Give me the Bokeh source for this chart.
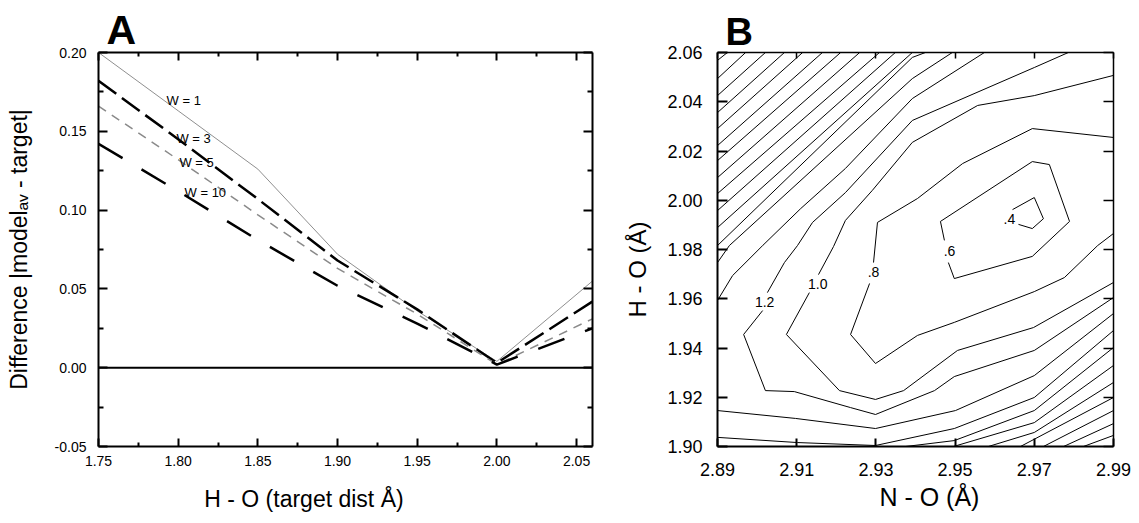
from bokeh.plotting import figure
from bokeh.layouts import row
from bokeh.models import (Range1d, LinearAxis, FixedTicker, PrintfTickFormatter, Span,
                          CustomJSTickFormatter)
from bokeh.core.properties import value
from bokeh.embed import file_html
from bokeh.resources import INLINE

FONT = "Liberation Sans"
NBSP = "\u00a0"

# ---------------- Panel A data ----------------
target_dist = [1.75, 1.80, 1.85, 1.90, 1.95, 2.00, 2.06]
diff_w1 = [0.200, 0.163, 0.126, 0.072, 0.036, 0.004, 0.055]
diff_w3 = [0.182, 0.145, 0.107, 0.068, 0.037, 0.003, 0.042]
diff_w5 = [0.166, 0.132, 0.097, 0.063, 0.034, 0.002, 0.031]
diff_w10 = [0.142, 0.112, 0.081, 0.052, 0.028, 0.002, 0.025]
w_labels = ["W = 1", "W = 3", "W = 5", "W = 10"]
w_label_x = [1.7927, 1.7989, 1.8008, 1.8040]
w_label_y = [0.1696, 0.1457, 0.1300, 0.1112]
a_xticks = [1.75, 1.80, 1.85, 1.90, 1.95, 2.00, 2.05]
a_xminor = [1.775, 1.825, 1.875, 1.925, 1.975, 2.025]
a_yticks = [-0.05, 0.00, 0.05, 0.10, 0.15, 0.20]
a_yminor = [-0.025, 0.025, 0.075, 0.125, 0.175]

# ---------------- Panel B data (contour lines traced) ----------------
contour_xs = [
    [2.9660, 2.9695, 2.9723, 2.9700, 2.9645],                      # 0.4
    [2.9473, 2.9463, 2.9695, 2.9738, 2.9789, 2.9695, 2.9498, 2.9483],  # 0.6
    [2.9900, 2.9695, 2.9519, 2.9405, 2.9304, 2.9294],              # 0.8 upper
    [2.9284, 2.9236, 2.9299, 2.9405, 2.9498, 2.9700, 2.9776, 2.9860, 2.9900],  # 0.8 lower
    [2.9155, 2.9193, 2.9223, 2.9291, 2.9392, 2.9557, 2.9700, 2.9900],  # 1.0 upper
    [2.9132, 2.9074, 2.9208, 2.9299, 2.9370, 2.9506, 2.9698, 2.9900],  # 1.0 lower
    [2.9026, 2.9069, 2.9102, 2.9140, 2.9223, 2.9392, 2.9700, 2.9786],  # 1.2 upper
    [2.9014, 2.8966, 2.9021, 2.9094, 2.9236, 2.9299, 2.9448, 2.9498, 2.9700, 2.9900],  # 1.2 lower
    [2.8900, 2.8938, 2.9014, 2.9110, 2.9223, 2.9392, 2.9574],      # 1.4 upper
    [2.8900, 2.9097, 2.9299, 2.9501, 2.9700, 2.9900],              # 1.4 lower
    [2.8900, 2.8930, 2.9392, 2.9493],                              # 1.6 upper
    [2.8900, 2.9102, 2.9299, 2.9498, 2.9700, 2.9900],              # 1.6 lower
    [2.8900, 2.9392, 2.9425],                                      # 1.8 upper
    [2.9375, 2.9498, 2.9700, 2.9900],                              # 1.8 lower
    [2.8900, 2.9392], [2.8900, 2.9349], [2.8900, 2.9309], [2.8900, 2.9259],
    [2.8900, 2.9211], [2.8900, 2.9165], [2.8900, 2.9115], [2.8900, 2.9069],
    [2.8900, 2.9021], [2.8900, 2.8971], [2.8900, 2.8925],          # top-left 2.0..4.0
    [2.9496, 2.9700, 2.9900], [2.9584, 2.9700, 2.9900],
    [2.9665, 2.9900], [2.9723, 2.9900], [2.9774, 2.9900], [2.9824, 2.9900],  # bottom-right 2.0..3.0
]
contour_ys = [
    [1.9902, 1.9885, 1.9925, 2.0011, 1.9962],
    [1.9837, 1.9914, 2.0157, 2.0145, 1.9914, 1.9772, 1.9682, 1.9747],
    [2.0255, 2.0291, 2.0149, 2.0007, 1.9910, 1.9747],
    [1.9662, 1.9455, 1.9337, 1.9451, 1.9504, 1.9629, 1.9686, 1.9816, 1.9865],
    [1.9698, 1.9812, 1.9918, 2.0040, 2.0235, 2.0385, 2.0425, 2.0507],
    [1.9625, 1.9455, 1.9227, 1.9191, 1.9227, 1.9390, 1.9483, 1.9666],
    [1.9625, 1.9747, 1.9816, 1.9910, 2.0031, 2.0324, 2.0539, 2.0600],
    [1.9552, 1.9455, 1.9227, 1.9223, 1.9158, 1.9130, 1.9227, 1.9284, 1.9390, 1.9605],
    [1.9593, 1.9694, 1.9816, 1.9966, 2.0129, 2.0413, 2.0600],
    [1.9146, 1.9114, 1.9073, 1.9146, 1.9288, 1.9540],
    [1.9747, 1.9816, 2.0494, 2.0600],
    [1.9037, 1.9016, 1.9004, 1.9073, 1.9199, 1.9471],
    [1.9816, 2.0580, 2.0600],
    [1.9000, 1.9024, 1.9146, 1.9402],
    [1.9889, 2.0600], [1.9958, 2.0600], [2.0027, 2.0600], [2.0092, 2.0600],
    [2.0161, 2.0600], [2.0222, 2.0600], [2.0291, 2.0600], [2.0356, 2.0600],
    [2.0425, 2.0600], [2.0494, 2.0600], [2.0568, 2.0600],
    [1.9000, 1.9097, 1.9329], [1.9000, 1.9057, 1.9260],
    [1.9000, 1.9199], [1.9000, 1.9146], [1.9000, 1.9093], [1.9000, 1.9045],
]
level_labels = ["1.2", "1.0", ".8", ".6", ".4"]
level_label_x = [2.9019, 2.9153, 2.9294, 2.9486, 2.9637]
level_label_y = [1.9585, 1.9658, 1.9707, 1.9792, 1.9922]
b_xticks = [2.89, 2.91, 2.93, 2.95, 2.97, 2.99]
b_yticks = [1.90, 1.92, 1.94, 1.96, 1.98, 2.00, 2.02, 2.04, 2.06]


def style_axis(ax, ticks, minor, show_labels, font_size, tick_in, minor_in, width, standoff):
    ax.ticker = FixedTicker(ticks=ticks, minor_ticks=minor)
    ax.major_tick_in = tick_in
    ax.major_tick_out = 0
    ax.minor_tick_in = minor_in
    ax.minor_tick_out = 0
    ax.axis_line_width = width
    ax.major_tick_line_width = width
    ax.minor_tick_line_width = width
    ax.axis_line_color = "black"
    ax.major_tick_line_color = "black"
    ax.minor_tick_line_color = "black"
    ax.axis_label_text_font = FONT
    ax.axis_label_text_font_style = "normal"
    ax.axis_label_text_color = "black"
    ax.major_label_text_font = FONT
    if show_labels:
        ax.formatter = PrintfTickFormatter(format="%.2f")
        ax.major_label_text_color = "black"
        ax.major_label_text_font_size = font_size
        ax.major_label_standoff = standoff
    else:
        ax.formatter = CustomJSTickFormatter(code="return '';")
        ax.major_label_text_color = None
        ax.major_label_text_font_size = "1px"
        ax.major_label_standoff = 0


def style_title(p, text, size):
    p.title.text = text
    p.title.text_font = FONT
    p.title.text_font_size = size
    p.title.text_font_style = "bold"
    p.title.text_color = "black"
    p.title.align = "left"
    p.title.offset = 8
    p.title.standoff = 0


# ---------------- Panel A ----------------
pA = figure(width=600, height=523, x_range=Range1d(1.75, 2.06), y_range=Range1d(-0.05, 0.20),
            output_backend="svg", toolbar_location=None,
            min_border_left=98, min_border_right=8, min_border_top=52, min_border_bottom=73)
pA.grid.visible = False
pA.outline_line_color = None
pA.background_fill_color = "white"
pA.border_fill_color = "white"
style_title(pA, "A", "41px")

style_axis(pA.xaxis[0], a_xticks, a_xminor, True, "14px", 8, 4, 2, 9)
style_axis(pA.yaxis[0], a_yticks, a_yminor, True, "14px", 9, 5, 2, 12)
pA.xaxis[0].axis_label = "H - O (target dist Å)" + NBSP * 13
pA.xaxis[0].axis_label_text_font_size = "23px"
pA.xaxis[0].axis_label_standoff = 17
pA.yaxis[0].axis_label = "Difference |modelₐᵥ - target|"
pA.yaxis[0].axis_label_text_font_size = "23px"
pA.yaxis[0].axis_label_standoff = 20

topA = LinearAxis()
style_axis(topA, a_xticks, a_xminor, False, "1px", 8, 4, 2, 0)
pA.add_layout(topA, "above")
rightA = LinearAxis()
style_axis(rightA, a_yticks, a_yminor, False, "1px", 9, 5, 2, 0)
pA.add_layout(rightA, "right")

pA.add_layout(Span(location=0.0, dimension="width", line_color="black", line_width=2))

pA.line(target_dist, diff_w1, line_color="#8f8f8f", line_width=1)
pA.line(target_dist, diff_w3, line_color="black", line_width=2.5, line_dash="22 7")
pA.line(target_dist, diff_w5, line_color="#8a8a8a", line_width=1.5, line_dash="9 7")
pA.line(target_dist, diff_w10, line_color="black", line_width=2.5, line_dash="28 22")

pA.text(x=w_label_x, y=w_label_y, text=w_labels, text_font=value(FONT), text_font_size="13px",
        text_baseline="middle", text_align="left", text_color="black")

# ---------------- Panel B ----------------
pB = figure(width=532, height=523, x_range=Range1d(2.89, 2.99), y_range=Range1d(1.90, 2.06),
            output_backend="svg", toolbar_location=None,
            min_border_left=117, min_border_right=19, min_border_top=52, min_border_bottom=77)
pB.grid.visible = False
pB.outline_line_color = None
pB.background_fill_color = "white"
pB.border_fill_color = "white"
style_title(pB, "B", "38px")

style_axis(pB.xaxis[0], b_xticks, [], True, "18px", 8, 0, 2, 16)
style_axis(pB.yaxis[0], b_yticks, [], True, "18px", 10, 0, 2, 15)
pB.xaxis[0].axis_label = NBSP * 4 + "N - O (Å)"
pB.xaxis[0].axis_label_text_font_size = "25px"
pB.xaxis[0].axis_label_standoff = 4
pB.yaxis[0].axis_label = "H - O (Å)" + NBSP * 6
pB.yaxis[0].axis_label_text_font_size = "24px"
pB.yaxis[0].axis_label_standoff = 13

topB = LinearAxis()
style_axis(topB, b_xticks, [], False, "1px", 6, 0, 1.5, 0)
pB.add_layout(topB, "above")
rightB = LinearAxis()
style_axis(rightB, b_yticks, [], False, "1px", 10, 0, 1.5, 0)
pB.add_layout(rightB, "right")

pB.multi_line(xs=contour_xs, ys=contour_ys, line_color="black", line_width=1)
pB.text(x=level_label_x, y=level_label_y, text=level_labels, text_font=value(FONT),
        text_font_size="14px", text_baseline="middle", text_align="center", text_color="black")

layout = row(pA, pB)
open("out.html", "w").write(file_html(layout, INLINE))
